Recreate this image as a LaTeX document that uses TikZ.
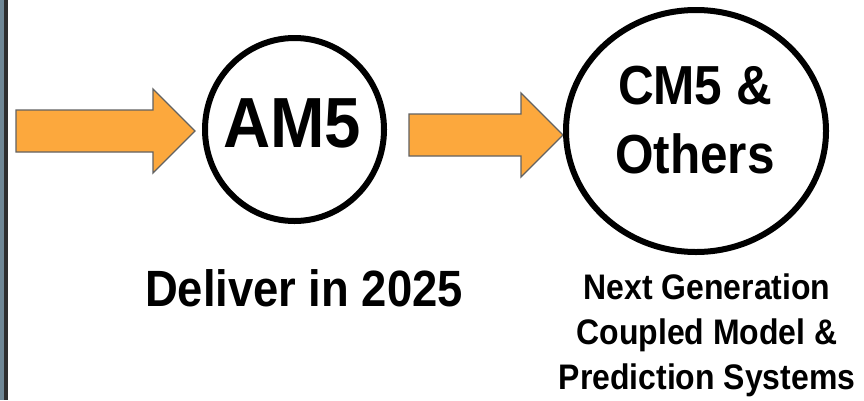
\documentclass[tikz,border=0pt]{standalone}
\usepackage{fontspec}
\setmainfont{Liberation Sans}
\begin{document}
\begin{tikzpicture}[x=1pt,y=-1pt,
  blockarrow/.style={fill=arrowfill,draw=arrowedge,line width=1.3pt,line join=miter},
  ring/.style={draw=black,line width=6pt},
  label/.style={text=black,inner sep=0pt,anchor=base,align=center}]
\definecolor{arrowfill}{HTML}{FCA83D}
\definecolor{arrowedge}{HTML}{626262}
\definecolor{edgeband}{HTML}{6F8795}
\definecolor{edgeline}{HTML}{2E2E2E}
\useasboundingbox (0,0) rectangle (864,400);
\fill[white] (0,0) rectangle (864,400);
% left frame edge
\fill[edgeband] (0,0) rectangle (4,400);
\fill[edgeline] (4,0) rectangle (7.5,400);
% block arrows
\draw[blockarrow] (16,110) -- (153,110) -- (153,89) -- (195,131) -- (153,173) -- (153,152) -- (16,152) -- cycle;
\draw[blockarrow] (409,114) -- (521,114) -- (521,93) -- (563,135) -- (521,177) -- (521,156) -- (409,156) -- cycle;
% model circles
\draw[ring] (294.5,129.5) ellipse [x radius=89.5, y radius=91.5];
\draw[ring] (696,131) ellipse [x radius=130, y radius=121];
% labels
\node[label,xscale=0.92,font=\bfseries\fontsize{71}{71}\selectfont] (am5) at (292,147) {AM5};
\node[label,xscale=0.9,font=\bfseries\fontsize{55}{55}\selectfont] (cm5) at (695,104) {CM5 \&};
\node[label,xscale=0.9,font=\bfseries\fontsize{55}{55}\selectfont] (others) at (695,173) {Others};
\node[label,xscale=0.89,font=\bfseries\fontsize{51}{51}\selectfont] (deliver) at (304,306) {Deliver in 2025};
\node[label,xscale=0.9,font=\bfseries\fontsize{35.5}{35.5}\selectfont] (next1) at (707,299) {Next Generation};
\node[label,xscale=0.9,font=\bfseries\fontsize{35.5}{35.5}\selectfont] (next2) at (707,344) {Coupled Model \&};
\node[label,xscale=0.9,font=\bfseries\fontsize{35.5}{35.5}\selectfont] (next3) at (707,389) {Prediction Systems};
\end{tikzpicture}
\end{document}
